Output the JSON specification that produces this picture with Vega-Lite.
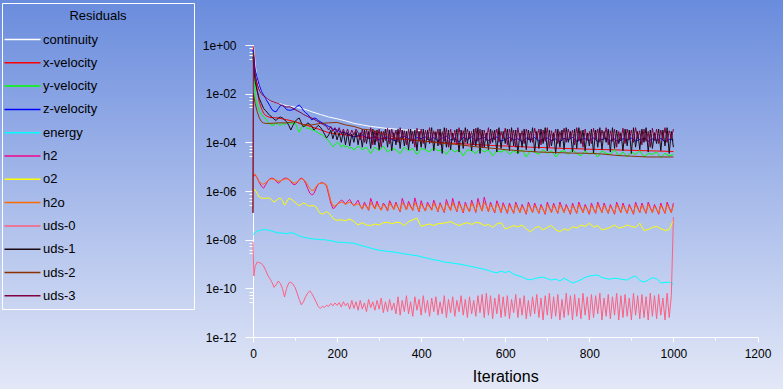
{
  "$schema": "https://vega.github.io/schema/vega-lite/v6.json",
  "width": 783,
  "height": 389,
  "padding": 0,
  "autosize": {"type": "none"},
  "background": "#a9bbea",
  "config": {
    "view": {"stroke": null, "fill": {"gradient": "linear", "x1": 0, "y1": 0, "x2": 0, "y2": 1, "stops": [{"offset": 0, "color": "#6a8cdd"}, {"offset": 1, "color": "#e3e8f7"}]}},
    "font": "Liberation Sans",
    "axis": {"domainColor": "#ffffff", "tickColor": "#ffffff", "labelColor": "#000000", "labelFont": "Liberation Sans", "labelFontSize": 12, "titleColor": "#000000", "titleFont": "Liberation Sans", "titleFontWeight": "normal", "grid": false, "labelFlush": false, "labelOverlap": false, "domainWidth": 1, "tickWidth": 1}
  },
  "data": {"values": [
{"i":0,"continuity":1,"x-velocity":0.9,"y-velocity":0.5,"z-velocity":0.63,"energy":1.58e-8,"h2":4e-6,"o2":1.26e-6,"h2o":4e-6,"uds-0":8e-9,"uds-1":0.32,"uds-2":1.26e-7,"uds-3":1.26e-7},
{"i":1,"continuity":0.95,"x-velocity":0.8,"uds-2":0.01,"uds-3":0.47},
{"i":2,"uds-0":3.2e-10},
{"i":3,"continuity":0.5,"x-velocity":0.25,"y-velocity":0.03,"z-velocity":0.2,"uds-1":0.08,"uds-2":6.3e-3,"uds-3":0.16},
{"i":5,"continuity":0.16,"x-velocity":0.063,"y-velocity":7.2e-3,"z-velocity":0.1,"h2":4.6e-6,"o2":1.1e-6,"h2o":5e-6,"uds-0":7.9e-10,"uds-1":0.032,"uds-2":4e-3,"uds-3":0.063},
{"i":10,"continuity":0.04,"x-velocity":0.014,"y-velocity":3.5e-3,"z-velocity":0.045,"energy":2.24e-8,"h2":3.5e-6,"o2":7.9e-7,"h2o":3.3e-6,"uds-0":1.2e-9,"uds-1":0.0126,"uds-2":1.8e-3,"uds-3":0.025},
{"i":15,"continuity":0.018,"x-velocity":4.5e-3,"y-velocity":2e-3,"z-velocity":0.022,"h2":2.2e-6,"o2":5.6e-7,"h2o":2.4e-6,"uds-0":1.15e-9,"uds-1":6.3e-3,"uds-2":1e-3,"uds-3":0.014},
{"i":20,"continuity":0.011,"x-velocity":2.5e-3,"y-velocity":1.4e-3,"z-velocity":0.0126,"energy":2.5e-8,"h2":1.6e-6,"o2":5.1e-7,"h2o":2e-6,"uds-0":1.05e-9,"uds-1":4e-3,"uds-2":7.1e-4,"uds-3":0.01},
{"i":25,"continuity":7.9e-3,"x-velocity":1.6e-3,"y-velocity":1.1e-3,"z-velocity":8.9e-3,"h2":1.3e-6,"o2":5e-7,"h2o":1.9e-6,"uds-0":8.3e-10,"uds-1":2.5e-3,"uds-2":6.3e-4,"uds-3":7.9e-3},
{"i":30,"continuity":6.3e-3,"x-velocity":1.26e-3,"y-velocity":9.5e-4,"z-velocity":6.3e-3,"energy":2.6e-8,"h2":1.8e-6,"o2":5e-7,"h2o":2.2e-6,"uds-0":5.6e-10,"uds-1":2e-3,"uds-2":6e-4,"uds-3":7.1e-3},
{"i":35,"y-velocity":7.1e-4,"z-velocity":4.5e-3,"h2":2.5e-6,"o2":5.2e-7,"h2o":2.6e-6,"uds-0":3.5e-10,"uds-1":1.6e-3,"uds-3":6e-3},
{"i":40,"continuity":5e-3,"x-velocity":1.05e-3,"y-velocity":5.6e-4,"z-velocity":3.2e-3,"energy":2.4e-8,"h2":3.2e-6,"o2":5e-7,"h2o":3e-6,"uds-0":2.5e-10,"uds-1":1.26e-3,"uds-2":6e-4,"uds-3":5.2e-3},
{"i":45,"y-velocity":5e-4,"z-velocity":2.2e-3,"h2":3.4e-6,"o2":4.2e-7,"h2o":3.2e-6,"uds-0":1.8e-10,"uds-1":1.1e-3,"uds-3":4.8e-3},
{"i":50,"y-velocity":5.2e-4,"z-velocity":1.9e-3,"energy":2.1e-8,"h2":3.2e-6,"o2":3.5e-7,"h2o":3e-6,"uds-0":1.1e-10,"uds-1":8.9e-4,"uds-3":4.5e-3},
{"i":55,"y-velocity":6.3e-4,"z-velocity":1.8e-3,"h2":2.5e-6,"o2":4e-7,"h2o":2.8e-6,"uds-0":1.4e-10,"uds-1":7.9e-4,"uds-3":4.2e-3},
{"i":60,"continuity":4e-3,"x-velocity":1e-3,"y-velocity":5.6e-4,"z-velocity":2.4e-3,"energy":1.9e-8,"h2":2.1e-6,"o2":4.8e-7,"h2o":2.5e-6,"uds-0":2e-10,"uds-1":1e-3,"uds-2":6.3e-4,"uds-3":4e-3},
{"i":65,"y-velocity":5e-4,"z-velocity":3.2e-3,"h2":2.4e-6,"o2":5.1e-7,"h2o":2.6e-6,"uds-0":1.6e-10,"uds-1":1.1e-3,"uds-3":3.5e-3},
{"i":70,"y-velocity":6e-4,"z-velocity":3.4e-3,"energy":1.86e-8,"h2":3e-6,"o2":4e-7,"h2o":2.8e-6,"uds-0":1e-10,"uds-1":1e-3,"uds-3":3.2e-3},
{"i":75,"y-velocity":5.2e-4,"z-velocity":2.8e-3,"h2":3.3e-6,"o2":2.6e-7,"h2o":3e-6,"uds-0":4.4e-11,"uds-1":8.3e-4,"uds-3":3e-3},
{"i":80,"continuity":3.2e-3,"x-velocity":8.5e-4,"y-velocity":6.3e-4,"z-velocity":2.2e-3,"energy":1.78e-8,"h2":3.4e-6,"o2":3.5e-7,"h2o":3.2e-6,"uds-0":1e-10,"uds-1":7.1e-4,"uds-2":6.3e-4,"uds-3":2.8e-3},
{"i":85,"y-velocity":6.6e-4,"z-velocity":2.1e-3,"h2":3e-6,"o2":5e-7,"h2o":3e-6,"uds-0":1.66e-10,"uds-1":5e-4,"uds-3":2.9e-3},
{"i":90,"y-velocity":5.6e-4,"z-velocity":2.1e-3,"energy":1.95e-8,"h2":2.4e-6,"o2":4.7e-7,"h2o":2.6e-6,"uds-0":1.8e-10,"uds-1":3.2e-4,"uds-3":2.8e-3},
{"i":95,"y-velocity":6.3e-4,"z-velocity":2.2e-3,"h2":1.9e-6,"o2":4e-7,"h2o":2.2e-6,"uds-0":1.5e-10,"uds-1":5e-4,"uds-3":2.5e-3},
{"i":100,"continuity":2.8e-3,"x-velocity":7.1e-4,"y-velocity":6.3e-4,"z-velocity":2.5e-3,"energy":1.74e-8,"h2":1.8e-6,"o2":3.5e-7,"h2o":2.1e-6,"uds-0":1.1e-10,"uds-1":7.1e-4,"uds-2":7.1e-4,"uds-3":2.2e-3},
{"i":105,"y-velocity":4e-4,"z-velocity":3e-3,"h2":2.2e-6,"o2":2.8e-7,"h2o":2.4e-6,"uds-0":6.3e-11,"uds-1":8.9e-4,"uds-3":2e-3},
{"i":110,"y-velocity":2.6e-4,"z-velocity":3.4e-3,"energy":1.41e-8,"h2":3e-6,"o2":2.5e-7,"h2o":2.8e-6,"uds-0":3.5e-11,"uds-1":1e-3,"uds-3":1.8e-3},
{"i":115,"y-velocity":4e-4,"z-velocity":2.8e-3,"h2":3.4e-6,"o2":2.8e-7,"h2o":3.2e-6,"uds-0":2.1e-11,"uds-1":6.3e-4,"uds-3":1.6e-3},
{"i":120,"continuity":2.4e-3,"x-velocity":5.4e-4,"y-velocity":5e-4,"z-velocity":2e-3,"energy":1.26e-8,"h2":3e-6,"o2":3.2e-7,"h2o":3e-6,"uds-0":2.8e-11,"uds-1":4.3e-4,"uds-2":5.2e-4,"uds-3":1.4e-3},
{"i":125,"y-velocity":4.5e-4,"z-velocity":1.66e-3,"h2":2.1e-6,"o2":3e-7,"h2o":2.5e-6,"uds-0":4.5e-11,"uds-1":5e-4,"uds-3":1.26e-3},
{"i":130,"y-velocity":3.5e-4,"z-velocity":1.41e-3,"energy":1.17e-8,"h2":1.26e-6,"o2":2.5e-7,"h2o":1.8e-6,"uds-0":6.3e-11,"uds-1":6.3e-4,"uds-3":1.15e-3},
{"i":135,"y-velocity":4e-4,"z-velocity":1.12e-3,"h2":8.3e-7,"o2":2.4e-7,"h2o":1.26e-6,"uds-0":7.9e-11,"uds-1":5.6e-4,"uds-3":1.05e-3},
{"i":140,"continuity":1.8e-3,"x-velocity":4.3e-4,"y-velocity":3.2e-4,"z-velocity":8.3e-4,"energy":1.07e-8,"h2":6.8e-7,"o2":2.5e-7,"h2o":1.05e-6,"uds-0":6e-11,"uds-1":4.5e-4,"uds-2":5.2e-4,"uds-3":1e-3},
{"i":145,"y-velocity":3.2e-4,"z-velocity":1e-3,"h2":7.9e-7,"o2":2.5e-7,"h2o":1.1e-6,"uds-0":4.2e-11,"uds-1":3.2e-4,"uds-3":8.9e-4},
{"i":150,"y-velocity":2.8e-4,"z-velocity":9.5e-4,"energy":1.05e-8,"h2":1.26e-6,"o2":2.24e-7,"h2o":1.5e-6,"uds-0":2.8e-11,"uds-1":4e-4,"uds-3":7.9e-4},
{"i":155,"y-velocity":2.5e-4,"z-velocity":7.9e-4,"h2":1.9e-6,"o2":1.58e-7,"h2o":1.9e-6,"uds-0":1.8e-11,"uds-1":5e-4,"uds-3":7.1e-4},
{"i":160,"continuity":1.4e-3,"x-velocity":3.3e-4,"y-velocity":2.2e-4,"z-velocity":7.1e-4,"energy":1e-8,"h2":2.1e-6,"o2":1.2e-7,"h2o":2.1e-6,"uds-0":1.5e-11,"uds-1":4.2e-4,"uds-2":6e-4,"uds-3":6.3e-4},
{"i":165,"y-velocity":2e-4,"z-velocity":6.3e-4,"h2":2.2e-6,"o2":1.12e-7,"h2o":2.1e-6,"uds-0":1.8e-11,"uds-1":3.2e-4,"uds-3":5.6e-4},
{"i":170,"y-velocity":1.66e-4,"z-velocity":5.6e-4,"energy":1e-8,"h2":2e-6,"o2":1.26e-7,"h2o":2e-6,"uds-0":1.66e-11,"uds-1":2.2e-4,"uds-3":5e-4},
{"i":175,"y-velocity":1.41e-4,"z-velocity":5e-4,"h2":1.6e-6,"o2":1.41e-7,"h2o":1.8e-6,"uds-0":2e-11,"uds-1":1.5e-4,"uds-3":4.5e-4},
{"i":180,"continuity":1.1e-3,"x-velocity":2.5e-4,"y-velocity":1.12e-4,"z-velocity":4.5e-4,"energy":9.3e-9,"h2":7.1e-7,"o2":1.26e-7,"h2o":8.9e-7,"uds-0":1.8e-11,"uds-1":2e-4,"uds-2":6.3e-4,"uds-3":3.2e-4},
{"i":185,"y-velocity":8.9e-5,"z-velocity":4e-4,"h2":3.2e-7,"o2":1e-7,"h2o":4e-7,"uds-0":2.4e-11,"uds-1":3.2e-4,"uds-3":4.5e-4},
{"i":190,"y-velocity":6.5e-5,"z-velocity":3.5e-4,"energy":8.7e-9,"h2":1.9e-7,"o2":7.6e-8,"h2o":2.5e-7,"uds-0":1.9e-11,"uds-1":1.4e-4,"uds-3":2.8e-4},
{"i":195,"y-velocity":7.9e-5,"z-velocity":3.3e-4,"h2":2.1e-7,"o2":6.5e-8,"h2o":2.4e-7,"uds-0":2.5e-11,"uds-1":2.8e-4,"uds-3":4e-4},
{"i":200,"continuity":9.3e-4,"x-velocity":2.2e-4,"y-velocity":1e-4,"z-velocity":3.2e-4,"energy":7.9e-9,"h2":2.8e-7,"o2":6.3e-8,"h2o":2.8e-7,"uds-0":2e-11,"uds-1":1.26e-4,"uds-2":6.6e-4,"uds-3":2.5e-4},
{"i":205,"y-velocity":8.9e-5,"h2":3.5e-7,"h2o":3.2e-7,"uds-0":2.6e-11,"uds-1":2.5e-4,"uds-3":4e-4},
{"i":210,"y-velocity":6.3e-5,"z-velocity":2.6e-4,"energy":7.8e-9,"h2":4.2e-7,"o2":6.5e-8,"h2o":3.5e-7,"uds-0":1.7e-11,"uds-1":1e-4,"uds-3":2.2e-4},
{"i":215,"y-velocity":7.9e-5,"h2":3.8e-7,"h2o":3.3e-7,"uds-0":2.8e-11,"uds-1":2.8e-4,"uds-3":3.5e-4},
{"i":220,"continuity":7.6e-4,"x-velocity":2e-4,"y-velocity":6.3e-5,"z-velocity":2.4e-4,"energy":7.6e-9,"h2":2.8e-7,"o2":6e-8,"h2o":2.8e-7,"uds-0":1.9e-11,"uds-1":7.9e-5,"uds-2":5.2e-4,"uds-3":2e-4},
{"i":225,"y-velocity":7.1e-5,"h2":3.8e-7,"h2o":3.2e-7,"uds-0":2.5e-11,"uds-1":2.5e-4,"uds-3":3.5e-4},
{"i":230,"y-velocity":5.6e-5,"z-velocity":2e-4,"energy":7.4e-9,"h2":4.5e-7,"o2":7.1e-8,"h2o":3.5e-7,"uds-0":1.4e-11,"uds-1":7.1e-5,"uds-3":1.8e-4},
{"i":235,"y-velocity":6.3e-5,"h2":3.2e-7,"h2o":3e-7,"uds-0":3.2e-11,"uds-1":2.2e-4,"uds-3":3.2e-4},
{"i":240,"continuity":6e-4,"x-velocity":1.8e-4,"y-velocity":4.8e-5,"z-velocity":1.66e-4,"energy":7.1e-9,"h2":2.4e-7,"o2":5.6e-8,"h2o":2.5e-7,"uds-0":1.5e-11,"uds-1":1e-4,"uds-2":4.5e-4,"uds-3":2e-4},
{"i":245,"h2":3.2e-7,"h2o":2.8e-7,"uds-0":2.8e-11,"uds-1":2.8e-4,"uds-3":3.5e-4},
{"i":250,"y-velocity":7.1e-5,"z-velocity":1.9e-4,"energy":6.3e-9,"h2":4.2e-7,"o2":4e-8,"h2o":3e-7,"uds-0":1.26e-11,"uds-1":7.9e-5,"uds-3":2.5e-4},
{"i":255,"h2":2.5e-7,"h2o":2.4e-7,"uds-0":3.2e-11,"uds-1":2.5e-4,"uds-3":1.26e-4},
{"i":260,"continuity":5.2e-4,"x-velocity":1.66e-4,"y-velocity":5e-5,"z-velocity":2e-4,"energy":5.6e-9,"h2":1.8e-7,"o2":5e-8,"h2o":1.8e-7,"uds-0":1.4e-11,"uds-1":6.3e-5,"uds-2":3.5e-4,"uds-3":3.5e-4},
{"i":265,"h2":3.5e-7,"h2o":2.8e-7,"uds-0":2.5e-11,"uds-1":3.2e-4,"uds-3":1e-4},
{"i":270,"y-velocity":6.3e-5,"z-velocity":1.58e-4,"energy":5e-9,"h2":2.4e-7,"o2":4e-8,"h2o":2.2e-7,"uds-0":1.1e-11,"uds-1":8.9e-5,"uds-3":3.2e-4},
{"i":275,"h2":1.6e-7,"h2o":1.66e-7,"uds-0":3.5e-11,"uds-1":2.8e-4,"uds-3":1.4e-4},
{"i":280,"continuity":4.5e-4,"x-velocity":1.6e-4,"y-velocity":3.5e-5,"z-velocity":1.41e-4,"energy":4.5e-9,"h2":5e-7,"o2":3.8e-8,"h2o":3.3e-7,"uds-0":1.6e-11,"uds-1":5.6e-5,"uds-2":3.2e-4,"uds-3":4e-4},
{"i":285,"h2":2.8e-7,"h2o":2.5e-7,"uds-0":2.8e-11,"uds-1":3.5e-4,"uds-3":7.9e-5},
{"i":290,"y-velocity":6.3e-5,"z-velocity":1.78e-4,"energy":4e-9,"h2":1.9e-7,"o2":4.4e-8,"h2o":1.8e-7,"uds-0":1.26e-11,"uds-1":7.9e-5,"uds-3":3e-4},
{"i":295,"h2":3.8e-7,"h2o":3e-7,"uds-0":3.2e-11,"uds-1":3.2e-4,"uds-3":1.1e-4},
{"i":300,"continuity":4.1e-4,"x-velocity":1.5e-4,"y-velocity":4.5e-5,"z-velocity":1.26e-4,"energy":3.7e-9,"h2":2.24e-7,"o2":4e-8,"h2o":2.2e-7,"uds-0":1.4e-11,"uds-1":5e-5,"uds-2":2.5e-4,"uds-3":3.5e-4},
{"i":305,"h2":1.66e-7,"h2o":1.6e-7,"uds-0":4e-11,"uds-1":2.8e-4,"uds-3":6.3e-5},
{"i":310,"y-velocity":7.1e-5,"z-velocity":1.5e-4,"energy":3.5e-9,"h2":3.2e-7,"o2":5e-8,"h2o":2.8e-7,"uds-0":1e-11,"uds-1":1e-4,"uds-3":2.8e-4},
{"i":315,"h2":2.5e-7,"h2o":2.2e-7,"uds-0":2.8e-11,"uds-1":3.5e-4,"uds-3":1.2e-4},
{"i":320,"continuity":3.7e-4,"x-velocity":1.45e-4,"y-velocity":4e-5,"z-velocity":1.66e-4,"energy":3.3e-9,"h2":1.5e-7,"o2":5.2e-8,"h2o":1.6e-7,"uds-0":1.1e-11,"uds-1":6.3e-5,"uds-2":2e-4,"uds-3":3.8e-4},
{"i":325,"h2":4e-7,"h2o":3.2e-7,"uds-0":3.5e-11,"uds-1":3.2e-4,"uds-3":8.9e-5},
{"i":330,"y-velocity":5.6e-5,"z-velocity":1.32e-4,"energy":3.2e-9,"h2":2.6e-7,"o2":4.5e-8,"h2o":2.4e-7,"uds-0":1.26e-11,"uds-1":4.5e-5,"uds-3":3.5e-4},
{"i":335,"h2":1.8e-7,"h2o":1.7e-7,"uds-0":2.5e-11,"uds-1":2.5e-4,"uds-3":1.26e-4},
{"i":340,"continuity":3.5e-4,"x-velocity":1.38e-4,"y-velocity":5e-5,"z-velocity":1.12e-4,"energy":3e-9,"h2":3.5e-7,"o2":5.2e-8,"h2o":3e-7,"uds-0":8.9e-12,"uds-1":7.9e-5,"uds-2":1.58e-4,"uds-3":3.2e-4},
{"i":345,"h2":2.1e-7,"h2o":2.1e-7,"uds-0":4.5e-11,"uds-1":3.5e-4,"uds-3":1e-4},
{"i":350,"y-velocity":3.5e-5,"z-velocity":1.58e-4,"energy":2.8e-9,"h2":1.4e-7,"o2":5e-8,"h2o":1.5e-7,"uds-0":7.9e-12,"uds-1":5.6e-5,"uds-3":4e-4},
{"i":355,"h2":5e-7,"h2o":3.3e-7,"uds-0":3.2e-11,"uds-1":3.2e-4,"uds-3":1.4e-4},
{"i":360,"continuity":3.2e-4,"x-velocity":1.32e-4,"y-velocity":6.3e-5,"z-velocity":1.78e-4,"energy":2.6e-9,"h2":2.8e-7,"o2":3.8e-8,"h2o":2.5e-7,"uds-0":1.1e-11,"uds-1":7.1e-5,"uds-2":1.38e-4,"uds-3":3e-4},
{"i":365,"h2":1.66e-7,"h2o":1.66e-7,"uds-0":5e-11,"uds-1":2.8e-4,"uds-3":7.9e-5},
{"i":370,"y-velocity":4.5e-5,"z-velocity":1.41e-4,"energy":2.5e-9,"h2":3.8e-7,"o2":5.5e-8,"h2o":3e-7,"uds-0":8.9e-12,"uds-1":5e-5,"uds-3":3.5e-4},
{"i":375,"h2":2.4e-7,"h2o":2.2e-7,"uds-0":2.8e-11,"uds-1":3.5e-4,"uds-3":1.1e-4},
{"i":380,"continuity":3.2e-4,"x-velocity":1.26e-4,"y-velocity":5.6e-5,"z-velocity":1.2e-4,"energy":2.3e-9,"h2":1.6e-7,"o2":6.5e-8,"h2o":1.6e-7,"uds-0":7.1e-12,"uds-1":8.9e-5,"uds-2":1.26e-4,"uds-3":2.8e-4},
{"i":385,"h2":5.2e-7,"h2o":3.3e-7,"uds-0":4.5e-11,"uds-1":3.2e-4,"uds-3":6.3e-5},
{"i":390,"y-velocity":3.2e-5,"z-velocity":1.58e-4,"energy":2.2e-9,"h2":2.5e-7,"o2":7.6e-8,"h2o":2.4e-7,"uds-0":1.26e-11,"uds-1":4.5e-5,"uds-3":3.8e-4},
{"i":395,"h2":1.4e-7,"h2o":1.5e-7,"uds-0":3.5e-11,"uds-1":2.8e-4,"uds-3":1.2e-4},
{"i":400,"continuity":3e-4,"x-velocity":1.15e-4,"y-velocity":5.6e-5,"z-velocity":1.41e-4,"energy":2e-9,"h2":4e-7,"o2":3.5e-8,"h2o":3e-7,"uds-0":7.9e-12,"uds-1":6.3e-5,"uds-2":1.12e-4,"uds-3":3.5e-4},
{"i":405,"h2":2.24e-7,"h2o":2.1e-7,"uds-0":5e-11,"uds-1":3.5e-4,"uds-3":8.9e-5},
{"i":410,"y-velocity":5e-5,"z-velocity":1.66e-4,"energy":1.8e-9,"h2":1.5e-7,"o2":4e-8,"h2o":1.5e-7,"uds-0":1e-11,"uds-1":5.6e-5,"uds-3":3.2e-4},
{"i":415,"h2":3.5e-7,"h2o":2.8e-7,"uds-0":3.2e-11,"uds-1":3.2e-4,"uds-3":1.26e-4},
{"i":420,"continuity":2.8e-4,"x-velocity":1.07e-4,"y-velocity":4e-5,"z-velocity":1.2e-4,"energy":1.66e-9,"h2":2.5e-7,"o2":4.4e-8,"h2o":2.2e-7,"uds-0":7.1e-12,"uds-1":8.9e-5,"uds-2":1.05e-4,"uds-3":4e-4},
{"i":425,"h2":1.66e-7,"h2o":1.6e-7,"uds-0":4e-11,"uds-1":4e-4,"uds-3":1e-4},
{"i":430,"y-velocity":6.3e-5,"z-velocity":1.58e-4,"energy":1.5e-9,"h2":4.2e-7,"o2":3.8e-8,"h2o":3.2e-7,"uds-0":1.1e-11,"uds-1":4.5e-5,"uds-3":3e-4},
{"i":435,"h2":2.4e-7,"h2o":2.2e-7,"uds-0":4.5e-11,"uds-1":2.8e-4,"uds-3":1.4e-4},
{"i":440,"continuity":2.7e-4,"x-velocity":1e-4,"y-velocity":4.5e-5,"z-velocity":1.12e-4,"energy":1.41e-9,"h2":1.4e-7,"o2":4.5e-8,"h2o":1.5e-7,"uds-0":7.9e-12,"uds-1":7.1e-5,"uds-2":9.5e-5,"uds-3":3.5e-4},
{"i":445,"h2":3.3e-7,"h2o":2.8e-7,"uds-0":2.8e-11,"uds-1":3.5e-4,"uds-3":7.9e-5},
{"i":450,"y-velocity":5e-5,"z-velocity":1.5e-4,"energy":1.26e-9,"h2":2e-7,"o2":4.7e-8,"h2o":2e-7,"uds-0":8.9e-12,"uds-1":3.5e-5,"uds-3":2.8e-4},
{"i":455,"h2":1.3e-7,"h2o":1.4e-7,"uds-0":5e-11,"uds-1":4e-4,"uds-3":1.1e-4},
{"i":460,"continuity":2.6e-4,"x-velocity":9.5e-5,"y-velocity":3.2e-5,"z-velocity":1.78e-4,"energy":1.17e-9,"h2":4.5e-7,"o2":5e-8,"h2o":3.2e-7,"uds-0":6.3e-12,"uds-1":6.3e-5,"uds-2":8.9e-5,"uds-3":3.8e-4},
{"i":465,"h2":2.5e-7,"h2o":2.3e-7,"uds-0":3.5e-11,"uds-1":3.2e-4,"uds-3":6.3e-5},
{"i":470,"y-velocity":5.6e-5,"z-velocity":1.26e-4,"energy":1.12e-9,"h2":1.6e-7,"o2":5.5e-8,"h2o":1.6e-7,"uds-0":1e-11,"uds-1":5e-5,"uds-3":3.5e-4},
{"i":475,"h2":5e-7,"h2o":3.3e-7,"uds-0":4.5e-11,"uds-1":2.5e-4,"uds-3":1.2e-4},
{"i":480,"continuity":2.5e-4,"x-velocity":9.1e-5,"y-velocity":4e-5,"z-velocity":1.41e-4,"energy":1.05e-9,"h2":2.4e-7,"o2":4.5e-8,"h2o":2.2e-7,"uds-0":7.1e-12,"uds-1":1e-4,"uds-2":8.3e-5,"uds-3":3.2e-4},
{"i":485,"h2":1.4e-7,"h2o":1.5e-7,"uds-0":3.2e-11,"uds-1":3.5e-4,"uds-3":8.9e-5},
{"i":490,"y-velocity":5e-5,"z-velocity":1.05e-4,"energy":1e-9,"h2":3.8e-7,"o2":3.8e-8,"h2o":3e-7,"uds-0":1.1e-11,"uds-1":4e-5,"uds-3":4e-4},
{"i":495,"h2":2.24e-7,"h2o":2.1e-7,"uds-0":5e-11,"uds-1":3.2e-4,"uds-3":1.26e-4},
{"i":500,"continuity":2.6e-4,"x-velocity":8.7e-5,"y-velocity":2.8e-5,"z-velocity":1.58e-4,"energy":9.3e-10,"h2":1.26e-7,"o2":4.5e-8,"h2o":1.4e-7,"uds-0":7.9e-12,"uds-1":5.6e-5,"uds-2":7.6e-5,"uds-3":3e-4},
{"i":505,"h2":3.5e-7,"h2o":2.8e-7,"uds-0":3.5e-11,"uds-1":4e-4,"uds-3":1e-4},
{"i":510,"y-velocity":5e-5,"z-velocity":1.32e-4,"energy":8.5e-10,"h2":2e-7,"o2":5e-8,"h2o":2e-7,"uds-0":6.3e-12,"uds-1":8.9e-5,"uds-3":3.5e-4},
{"i":515,"h2":1.4e-7,"h2o":1.45e-7,"uds-0":4.5e-11,"uds-1":2.8e-4,"uds-3":1.4e-4},
{"i":520,"continuity":2.5e-4,"x-velocity":8.3e-5,"y-velocity":4.5e-5,"z-velocity":1.66e-4,"energy":7.9e-10,"h2":4.2e-7,"o2":4.2e-8,"h2o":3.2e-7,"uds-0":8.9e-12,"uds-1":4.5e-5,"uds-2":6.9e-5,"uds-3":2.8e-4},
{"i":525,"h2":2.4e-7,"h2o":2.2e-7,"uds-0":3.2e-11,"uds-1":3.5e-4,"uds-3":7.9e-5},
{"i":530,"y-velocity":3.5e-5,"z-velocity":1.12e-4,"energy":7.2e-10,"h2":1.3e-7,"o2":5.2e-8,"h2o":1.4e-7,"uds-0":7.1e-12,"uds-1":7.1e-5,"uds-3":3.8e-4},
{"i":535,"h2":5e-7,"h2o":3.3e-7,"uds-0":5e-11,"uds-1":4e-4,"uds-3":1.1e-4},
{"i":540,"continuity":2.4e-4,"x-velocity":7.9e-5,"y-velocity":5.6e-5,"z-velocity":1.41e-4,"energy":6.6e-10,"h2":2.5e-7,"o2":4.8e-8,"h2o":2.3e-7,"uds-0":1e-11,"uds-1":3.5e-5,"uds-2":6.3e-5,"uds-3":3.5e-4},
{"i":545,"h2":1.5e-7,"h2o":1.5e-7,"uds-0":5.6e-11,"uds-1":3.2e-4,"uds-3":6.3e-5},
{"i":550,"y-velocity":4e-5,"z-velocity":1.58e-4,"energy":6e-10,"h2":5.6e-7,"o2":3.8e-8,"h2o":3.5e-7,"uds-0":6.3e-12,"uds-1":6.3e-5,"uds-3":3.2e-4},
{"i":555,"h2":2.6e-7,"h2o":2.4e-7,"uds-0":6.3e-11,"uds-1":2.5e-4,"uds-3":1.2e-4},
{"i":560,"continuity":2.5e-4,"x-velocity":7.6e-5,"y-velocity":5e-5,"z-velocity":1.2e-4,"energy":5.5e-10,"h2":1.4e-7,"o2":4.2e-8,"h2o":1.45e-7,"uds-0":7.9e-12,"uds-1":5e-5,"uds-2":5.9e-5,"uds-3":4e-4},
{"i":565,"h2":3.5e-7,"h2o":2.8e-7,"uds-0":5e-11,"uds-1":3.5e-4,"uds-3":8.9e-5},
{"i":570,"y-velocity":2.8e-5,"z-velocity":1.41e-4,"energy":4.7e-10,"h2":2e-7,"o2":3.2e-8,"h2o":2e-7,"uds-0":5.6e-12,"uds-1":1e-4,"uds-3":3e-4},
{"i":575,"h2":1.26e-7,"h2o":1.35e-7,"uds-0":4e-11,"uds-1":3.2e-4,"uds-3":1.26e-4},
{"i":580,"continuity":2.35e-4,"x-velocity":7.2e-5,"y-velocity":4.5e-5,"z-velocity":1.66e-4,"energy":4.4e-10,"h2":4e-7,"o2":4.4e-8,"h2o":3e-7,"uds-0":8.9e-12,"uds-1":4e-5,"uds-2":5.5e-5,"uds-3":3.5e-4},
{"i":585,"h2":2.4e-7,"h2o":2.2e-7,"uds-0":5.6e-11,"uds-1":4e-4,"uds-3":1e-4},
{"i":590,"y-velocity":4e-5,"z-velocity":1.12e-4,"energy":5e-10,"h2":1.3e-7,"o2":5e-8,"h2o":1.4e-7,"uds-0":6.3e-12,"uds-1":5.6e-5,"uds-3":2.8e-4},
{"i":595,"h2":3.3e-7,"h2o":2.7e-7,"uds-0":4.5e-11,"uds-1":2.8e-4,"uds-3":1.4e-4},
{"i":600,"continuity":2.5e-4,"x-velocity":7.1e-5,"y-velocity":5e-5,"z-velocity":1.32e-4,"energy":4.5e-10,"h2":2e-7,"o2":2.75e-8,"h2o":1.9e-7,"uds-0":7.1e-12,"uds-1":8.9e-5,"uds-2":5e-5,"uds-3":3.8e-4},
{"i":605,"h2":1.2e-7,"h2o":1.3e-7,"uds-0":5e-11,"uds-1":3.5e-4,"uds-3":7.9e-5},
{"i":610,"y-velocity":3.2e-5,"z-velocity":1.58e-4,"energy":5e-10,"h2":3.2e-7,"o2":3.2e-8,"h2o":2.6e-7,"uds-0":5.6e-12,"uds-1":4.5e-5,"uds-3":3.5e-4},
{"i":615,"h2":1.9e-7,"h2o":1.8e-7,"uds-0":3.5e-11,"uds-1":4e-4,"uds-3":1.1e-4},
{"i":620,"continuity":2.4e-4,"x-velocity":6.8e-5,"y-velocity":4.5e-5,"z-velocity":1.26e-4,"energy":3.8e-10,"h2":1.2e-7,"o2":3.8e-8,"h2o":1.26e-7,"uds-0":1e-11,"uds-1":7.1e-5,"uds-2":4.7e-5,"uds-3":3.2e-4},
{"i":625,"h2":3.5e-7,"h2o":2.8e-7,"uds-0":5.6e-11,"uds-1":3.2e-4,"uds-3":6.3e-5},
{"i":630,"y-velocity":3.5e-5,"z-velocity":1.41e-4,"energy":3.3e-10,"h2":2.1e-7,"o2":3.3e-8,"h2o":1.9e-7,"uds-0":6.3e-12,"uds-1":3.5e-5,"uds-3":4e-4},
{"i":635,"h2":1.3e-7,"h2o":1.3e-7,"uds-0":4e-11,"uds-1":2.5e-4,"uds-3":1.2e-4},
{"i":640,"continuity":2.5e-4,"x-velocity":6.6e-5,"y-velocity":5e-5,"z-velocity":1.05e-4,"energy":2.95e-10,"h2":2.8e-7,"o2":4e-8,"h2o":2.4e-7,"uds-0":7.9e-12,"uds-1":6.3e-5,"uds-2":4.4e-5,"uds-3":3e-4},
{"i":645,"h2":1.8e-7,"h2o":1.7e-7,"uds-0":5e-11,"uds-1":3.5e-4,"uds-3":8.9e-5},
{"i":650,"y-velocity":2.5e-5,"z-velocity":1.5e-4,"energy":2.4e-10,"h2":1.1e-7,"o2":2.8e-8,"h2o":1.2e-7,"uds-0":5.6e-12,"uds-1":5e-5,"uds-3":3.5e-4},
{"i":655,"h2":3.5e-7,"h2o":2.8e-7,"uds-0":3.2e-11,"uds-1":3.2e-4,"uds-3":1.26e-4},
{"i":660,"continuity":2.35e-4,"x-velocity":6.3e-5,"y-velocity":4.5e-5,"z-velocity":1.26e-4,"energy":2.24e-10,"h2":2.1e-7,"o2":2.1e-8,"h2o":1.9e-7,"uds-0":7.1e-12,"uds-1":1e-4,"uds-2":4.2e-5,"uds-3":2.8e-4},
{"i":665,"h2":1.3e-7,"h2o":1.3e-7,"uds-0":4.5e-11,"uds-1":4e-4,"uds-3":1e-4},
{"i":670,"y-velocity":4e-5,"z-velocity":1.58e-4,"energy":2.5e-10,"h2":3.2e-7,"o2":3e-8,"h2o":2.6e-7,"uds-0":8.9e-12,"uds-1":4e-5,"uds-3":3.8e-4},
{"i":675,"h2":1.9e-7,"h2o":1.8e-7,"uds-0":5.6e-11,"uds-1":2.8e-4,"uds-3":1.4e-4},
{"i":680,"continuity":2.4e-4,"x-velocity":6.2e-5,"y-velocity":3.2e-5,"z-velocity":1.12e-4,"energy":2.75e-10,"h2":1.2e-7,"o2":3.5e-8,"h2o":1.26e-7,"uds-0":6.3e-12,"uds-1":5.6e-5,"uds-2":4e-5,"uds-3":3.5e-4},
{"i":685,"h2":2.8e-7,"h2o":2.4e-7,"uds-0":4e-11,"uds-1":3.5e-4,"uds-3":7.9e-5},
{"i":690,"y-velocity":5e-5,"z-velocity":1.32e-4,"energy":2.9e-10,"h2":1.8e-7,"o2":2.5e-8,"h2o":1.7e-7,"uds-0":5e-12,"uds-1":8.9e-5,"uds-3":3.2e-4},
{"i":695,"h2":1.1e-7,"h2o":1.2e-7,"uds-0":5e-11,"uds-1":4e-4,"uds-3":1.1e-4},
{"i":700,"continuity":2.45e-4,"x-velocity":6e-5,"y-velocity":3.5e-5,"z-velocity":1.5e-4,"energy":2.5e-10,"h2":3.5e-7,"o2":3.2e-8,"h2o":2.8e-7,"uds-0":7.9e-12,"uds-1":4.5e-5,"uds-2":3.9e-5,"uds-3":4e-4},
{"i":705,"h2":2.1e-7,"h2o":1.9e-7,"uds-0":6.3e-11,"uds-1":3.2e-4,"uds-3":6.3e-5},
{"i":710,"y-velocity":4.5e-5,"z-velocity":1.2e-4,"energy":2.2e-10,"h2":1.3e-7,"o2":3.8e-8,"h2o":1.3e-7,"uds-0":5.6e-12,"uds-1":7.1e-5,"uds-3":3e-4},
{"i":715,"h2":3.2e-7,"h2o":2.6e-7,"uds-0":4.5e-11,"uds-1":2.5e-4,"uds-3":1.2e-4},
{"i":720,"continuity":2.3e-4,"x-velocity":5.8e-5,"y-velocity":2.5e-5,"z-velocity":1.38e-4,"energy":2.4e-10,"h2":1.9e-7,"o2":2.5e-8,"h2o":1.8e-7,"uds-0":7.1e-12,"uds-1":3.5e-5,"uds-2":3.8e-5,"uds-3":3.5e-4},
{"i":725,"h2":1.2e-7,"h2o":1.26e-7,"uds-0":5.6e-11,"uds-1":3.5e-4,"uds-3":8.9e-5},
{"i":730,"y-velocity":4e-5,"z-velocity":1.05e-4,"energy":2e-10,"h2":3.5e-7,"o2":2.14e-8,"h2o":2.8e-7,"uds-0":5e-12,"uds-1":6.3e-5,"uds-3":2.8e-4},
{"i":735,"h2":2.1e-7,"h2o":1.9e-7,"uds-0":3.5e-11,"uds-1":3.2e-4,"uds-3":1.26e-4},
{"i":740,"continuity":2.5e-4,"x-velocity":5.6e-5,"y-velocity":4.5e-5,"z-velocity":1.45e-4,"energy":2.6e-10,"h2":1.3e-7,"o2":2.8e-8,"h2o":1.3e-7,"uds-0":6.3e-12,"uds-1":5e-5,"uds-2":3.7e-5,"uds-3":3.8e-4},
{"i":745,"h2":2.8e-7,"h2o":2.4e-7,"uds-0":6.3e-11,"uds-1":4e-4,"uds-3":1e-4},
{"i":750,"y-velocity":3.2e-5,"z-velocity":1.26e-4,"energy":2.1e-10,"h2":1.8e-7,"o2":2.4e-8,"h2o":1.7e-7,"uds-0":7.9e-12,"uds-1":1e-4,"uds-3":3.5e-4},
{"i":755,"h2":1.1e-7,"h2o":1.2e-7,"uds-0":5e-11,"uds-1":2.8e-4,"uds-3":1.4e-4},
{"i":760,"continuity":2.35e-4,"x-velocity":5.5e-5,"y-velocity":5e-5,"z-velocity":1.58e-4,"energy":1.66e-10,"h2":3.2e-7,"o2":3.4e-8,"h2o":2.6e-7,"uds-0":5e-12,"uds-1":4e-5,"uds-2":3.6e-5,"uds-3":3.2e-4},
{"i":765,"h2":1.9e-7,"h2o":1.8e-7,"uds-0":5.6e-11,"uds-1":3.5e-4,"uds-3":7.9e-5},
{"i":770,"y-velocity":3.5e-5,"z-velocity":1.12e-4,"energy":1.9e-10,"h2":1.2e-7,"o2":3e-8,"h2o":1.26e-7,"uds-0":7.1e-12,"uds-1":5.6e-5,"uds-3":4e-4},
{"i":775,"h2":3.5e-7,"h2o":2.8e-7,"uds-0":4e-11,"uds-1":4e-4,"uds-3":1.1e-4},
{"i":780,"continuity":2.4e-4,"x-velocity":5.4e-5,"y-velocity":2.8e-5,"z-velocity":1.32e-4,"energy":2.24e-10,"h2":2.1e-7,"o2":4e-8,"h2o":1.9e-7,"uds-0":5.6e-12,"uds-1":8.9e-5,"uds-2":3.6e-5,"uds-3":3e-4},
{"i":785,"h2":1.3e-7,"h2o":1.3e-7,"uds-0":6.3e-11,"uds-1":3.2e-4,"uds-3":6.3e-5},
{"i":790,"y-velocity":4.5e-5,"z-velocity":1.41e-4,"energy":2.8e-10,"h2":2.8e-7,"o2":3.5e-8,"h2o":2.4e-7,"uds-0":7.9e-12,"uds-1":4.5e-5,"uds-3":3.5e-4},
{"i":795,"h2":1.8e-7,"h2o":1.7e-7,"uds-0":4.5e-11,"uds-1":2.5e-4,"uds-3":1.2e-4},
{"i":800,"continuity":2.5e-4,"x-velocity":5.2e-5,"y-velocity":3.2e-5,"z-velocity":1.2e-4,"energy":3.2e-10,"h2":1.1e-7,"o2":4.7e-8,"h2o":1.2e-7,"uds-0":5e-12,"uds-1":7.1e-5,"uds-2":3.5e-5,"uds-3":2.8e-4},
{"i":805,"h2":3.2e-7,"h2o":2.6e-7,"uds-0":5.6e-11,"uds-1":3.5e-4,"uds-3":8.9e-5},
{"i":810,"y-velocity":4e-5,"z-velocity":1.5e-4,"energy":3.4e-10,"h2":1.9e-7,"o2":3.3e-8,"h2o":1.8e-7,"uds-0":6.3e-12,"uds-1":3.5e-5,"uds-3":3.8e-4},
{"i":815,"h2":1.2e-7,"h2o":1.26e-7,"uds-0":5e-11,"uds-1":3.2e-4,"uds-3":1.26e-4},
{"i":820,"continuity":2.35e-4,"x-velocity":5.1e-5,"y-velocity":2.5e-5,"z-velocity":1.1e-4,"energy":3.5e-10,"h2":3.5e-7,"o2":3.8e-8,"h2o":2.8e-7,"uds-0":8.9e-12,"uds-1":6.3e-5,"uds-2":3.4e-5,"uds-3":3.5e-4},
{"i":825,"h2":2.1e-7,"h2o":1.9e-7,"uds-0":6.3e-11,"uds-1":4e-4,"uds-3":1e-4},
{"i":830,"y-velocity":4.5e-5,"z-velocity":1.32e-4,"energy":2.8e-10,"h2":1.3e-7,"o2":2.5e-8,"h2o":1.3e-7,"uds-0":5e-12,"uds-1":5e-5,"uds-3":3.2e-4},
{"i":835,"h2":3.2e-7,"h2o":2.6e-7,"uds-0":4e-11,"uds-1":2.8e-4,"uds-3":1.4e-4},
{"i":840,"continuity":2.4e-4,"x-velocity":5e-5,"y-velocity":3.5e-5,"z-velocity":1.45e-4,"energy":2.5e-10,"h2":1.9e-7,"o2":2.8e-8,"h2o":1.8e-7,"uds-0":7.1e-12,"uds-1":1e-4,"uds-2":3.2e-5,"uds-3":4e-4},
{"i":845,"h2":1.2e-7,"h2o":1.26e-7,"uds-0":5.6e-11,"uds-1":3.5e-4,"uds-3":7.9e-5},
{"i":850,"y-velocity":3.2e-5,"z-velocity":1.15e-4,"energy":2.4e-10,"h2":2.8e-7,"o2":3.2e-8,"h2o":2.4e-7,"uds-0":5.6e-12,"uds-1":4e-5,"uds-3":3e-4},
{"i":855,"h2":1.8e-7,"h2o":1.7e-7,"uds-0":4.5e-11,"uds-1":4e-4,"uds-3":1.1e-4},
{"i":860,"continuity":2.3e-4,"x-velocity":4.9e-5,"y-velocity":5e-5,"z-velocity":1.38e-4,"energy":2.6e-10,"h2":1.1e-7,"o2":4e-8,"h2o":1.2e-7,"uds-0":7.9e-12,"uds-1":5.6e-5,"uds-2":2.95e-5,"uds-3":3.5e-4},
{"i":865,"h2":3.5e-7,"h2o":2.8e-7,"uds-0":6.3e-11,"uds-1":3.2e-4,"uds-3":6.3e-5},
{"i":870,"y-velocity":2.8e-5,"z-velocity":1.05e-4,"energy":2.5e-10,"h2":2.1e-7,"o2":3e-8,"h2o":1.9e-7,"uds-0":5e-12,"uds-1":8.9e-5,"uds-3":2.8e-4},
{"i":875,"h2":1.3e-7,"h2o":1.3e-7,"uds-0":5e-11,"uds-1":2.5e-4,"uds-3":1.2e-4},
{"i":880,"continuity":2.4e-4,"x-velocity":4.8e-5,"y-velocity":4e-5,"z-velocity":1.41e-4,"energy":2.3e-10,"h2":3.2e-7,"o2":3.3e-8,"h2o":2.6e-7,"uds-0":6.3e-12,"uds-1":4.5e-5,"uds-2":2.8e-5,"uds-3":3.8e-4},
{"i":885,"h2":1.9e-7,"h2o":1.8e-7,"uds-0":5.6e-11,"uds-1":3.5e-4,"uds-3":8.9e-5},
{"i":890,"y-velocity":2.5e-5,"z-velocity":1.26e-4,"energy":2.2e-10,"h2":1.2e-7,"o2":4e-8,"h2o":1.26e-7,"uds-0":7.1e-12,"uds-1":7.1e-5,"uds-3":3.5e-4},
{"i":895,"h2":2.8e-7,"h2o":2.4e-7,"uds-0":4e-11,"uds-1":3.2e-4,"uds-3":1.26e-4},
{"i":900,"continuity":2.35e-4,"x-velocity":4.7e-5,"y-velocity":4e-5,"z-velocity":1.5e-4,"energy":2.8e-10,"h2":1.8e-7,"o2":3.5e-8,"h2o":1.7e-7,"uds-0":5e-12,"uds-1":3.5e-5,"uds-2":2.7e-5,"uds-3":3.2e-4},
{"i":905,"h2":1.1e-7,"h2o":1.2e-7,"uds-0":6.3e-11,"uds-1":4e-4,"uds-3":1e-4},
{"i":910,"y-velocity":3.2e-5,"z-velocity":1.12e-4,"energy":3.2e-10,"h2":3.5e-7,"o2":3.2e-8,"h2o":2.8e-7,"uds-0":7.9e-12,"uds-1":6.3e-5,"uds-3":4e-4},
{"i":915,"h2":2.1e-7,"h2o":1.9e-7,"uds-0":5e-11,"uds-1":2.8e-4,"uds-3":1.4e-4},
{"i":920,"continuity":2.5e-4,"x-velocity":4.6e-5,"y-velocity":4.5e-5,"z-velocity":1.32e-4,"energy":2.1e-10,"h2":1.3e-7,"o2":4.7e-8,"h2o":1.3e-7,"uds-0":5.6e-12,"uds-1":5e-5,"uds-2":2.6e-5,"uds-3":3e-4},
{"i":925,"h2":3.2e-7,"h2o":2.6e-7,"uds-0":5.6e-11,"uds-1":3.5e-4,"uds-3":7.9e-5},
{"i":930,"y-velocity":2.5e-5,"z-velocity":1.45e-4,"energy":1.8e-10,"h2":1.9e-7,"o2":2.4e-8,"h2o":1.8e-7,"uds-0":6.3e-12,"uds-1":1e-4,"uds-3":3.5e-4},
{"i":935,"h2":1.2e-7,"h2o":1.26e-7,"uds-0":4.5e-11,"uds-1":4e-4,"uds-3":1.1e-4},
{"i":940,"continuity":2.3e-4,"x-velocity":4.5e-5,"y-velocity":3.5e-5,"z-velocity":1.1e-4,"energy":2.2e-10,"h2":3.5e-7,"o2":2.6e-8,"h2o":2.8e-7,"uds-0":5e-12,"uds-1":4e-5,"uds-2":2.5e-5,"uds-3":2.8e-4},
{"i":945,"h2":2.1e-7,"h2o":1.9e-7,"uds-0":6.3e-11,"uds-1":3.2e-4,"uds-3":6.3e-5},
{"i":950,"y-velocity":3.2e-5,"z-velocity":1.38e-4,"energy":2.75e-10,"h2":1.3e-7,"o2":3.2e-8,"h2o":1.3e-7,"uds-0":7.1e-12,"uds-1":5.6e-5,"uds-3":3.8e-4},
{"i":955,"h2":2.8e-7,"h2o":2.4e-7,"uds-0":5e-11,"uds-1":2.5e-4,"uds-3":1.2e-4},
{"i":960,"continuity":2.4e-4,"x-velocity":4.4e-5,"y-velocity":4e-5,"z-velocity":1.2e-4,"energy":2.5e-10,"h2":1.8e-7,"o2":3.5e-8,"h2o":1.7e-7,"uds-0":5.6e-12,"uds-1":8.9e-5,"uds-2":2.5e-5,"uds-3":3.5e-4},
{"i":965,"h2":1.1e-7,"h2o":1.2e-7,"uds-0":5.6e-11,"uds-1":3.5e-4,"uds-3":8.9e-5},
{"i":970,"y-velocity":2.4e-5,"z-velocity":1.45e-4,"energy":1.66e-10,"h2":3.2e-7,"o2":2.8e-8,"h2o":2.6e-7,"uds-0":7.9e-12,"uds-1":4.5e-5,"uds-3":3.2e-4},
{"i":975,"h2":1.9e-7,"h2o":1.8e-7,"uds-0":4e-11,"uds-1":3.2e-4,"uds-3":1.26e-4},
{"i":980,"continuity":2.25e-4,"x-velocity":4.3e-5,"y-velocity":3.5e-5,"z-velocity":1.05e-4,"energy":1.74e-10,"h2":1.2e-7,"o2":2.4e-8,"h2o":1.26e-7,"uds-0":5e-12,"uds-1":7.1e-5,"uds-2":2.5e-5,"uds-3":4e-4},
{"i":985,"h2":3.5e-7,"h2o":2.8e-7,"uds-0":6.3e-11,"uds-1":4e-4,"uds-3":1e-4},
{"i":990,"y-velocity":2.8e-5,"z-velocity":1.32e-4,"energy":1.8e-10,"h2":2.1e-7,"o2":2.6e-8,"h2o":1.9e-7,"uds-0":6.3e-12,"uds-1":3.5e-5,"uds-3":3e-4},
{"i":995,"h2":1.3e-7,"h2o":1.3e-7,"uds-0":5e-11,"uds-1":2.8e-4,"uds-3":1.4e-4},
{"i":1000,"continuity":2.3e-4,"x-velocity":4.2e-5,"y-velocity":3.2e-5,"z-velocity":1.26e-4,"energy":1.5e-10,"h2":3.2e-7,"o2":6.3e-8,"h2o":2.6e-7,"uds-0":8.5e-8,"uds-1":6.3e-5,"uds-2":2.5e-5,"uds-3":3.5e-4}
  ]},
  "transform": [
    {"fold": ["continuity", "x-velocity", "y-velocity", "z-velocity", "energy", "h2", "o2", "h2o", "uds-0", "uds-1", "uds-2", "uds-3"], "as": ["series", "v"]},
    {"filter": "isValid(datum.v)"}
  ],
  "mark": {"type": "line", "strokeWidth": 1, "clip": false},
  "encoding": {
    "x": {
      "field": "i", "type": "quantitative",
      "scale": {"domain": [0, 1200], "range": [253, 757.5], "nice": false, "zero": false},
      "axis": {
        "title": "Iterations", "orient": "bottom", "offset": -52, "format": "d",
        "values": [0, 100, 200, 300, 400, 500, 600, 700, 800, 900, 1000, 1100, 1200],
        "labelExpr": "datum.value % 200 == 0 ? datum.label : ''",
        "tickSize": {"condition": {"test": "datum.value % 200 == 0", "value": 5}, "value": 3},
        "labelPadding": 6, "titleFontSize": 16, "titlePadding": 9
      }
    },
    "y": {
      "field": "v", "type": "quantitative",
      "scale": {"type": "log", "domain": [1e-12, 1], "range": [337, 45], "nice": false},
      "axis": {
        "title": null, "orient": "left", "offset": -253,
        "values": [1, 0.74, 0.54, 0.39, 0.275, 0.01, 0.0074, 0.0054, 0.0039, 0.00275, 1e-4, 7.4e-5, 5.4e-5, 3.9e-5, 2.75e-5, 1e-6, 7.4e-7, 5.4e-7, 3.9e-7, 2.75e-7, 1e-8, 7.4e-9, 5.4e-9, 3.9e-9, 2.75e-9, 1e-10, 7.4e-11, 5.4e-11, 3.9e-11, 2.75e-11, 1e-12],
        "labelExpr": "abs(log(datum.value)/LN10 - round(log(datum.value)/LN10)) < 0.01 ? (datum.value > 0.5 ? '1e+00' : '1e-' + (datum.value > 1e-9 ? '0' : '') + round(-log(datum.value)/LN10)) : ''",
        "tickSize": {"condition": {"test": "abs(log(datum.value)/LN10 - round(log(datum.value)/LN10)) < 0.01", "value": 8}, "value": 4},
        "labelPadding": 9
      }
    },
    "color": {
      "field": "series", "type": "nominal",
      "scale": {
        "domain": ["continuity", "x-velocity", "y-velocity", "z-velocity", "energy", "h2", "o2", "h2o", "uds-0", "uds-1", "uds-2", "uds-3"],
        "range": ["#ffffff", "#ff0000", "#00ff00", "#0000ff", "#00ffff", "#f0088c", "#ffff00", "#ff6a00", "#ff5f80", "#1a0a14", "#8c3200", "#800040"]
      },
      "legend": {
        "orient": "none", "legendX": 2, "legendY": 3,
        "title": ["", "Residuals"],
        "titleAnchor": "middle", "titleAlign": "center", "titleFont": "Liberation Sans", "titleFontSize": 13, "titleFontWeight": "normal", "titleColor": "#000000", "titleLimit": 0, "titleLineHeight": 5, "titlePadding": 6,
        "padding": 2, "strokeColor": "#ffffff", "fillColor": null,
        "symbolType": "stroke", "symbolSize": 1296, "symbolOffset": -0.5, "symbolStrokeWidth": 1.5, "clipHeight": 21, "rowPadding": 2.3,
        "labelFont": "Liberation Sans", "labelFontSize": 13, "labelColor": "#000000", "labelOffset": 1.5, "labelLimit": 0,
        "labelExpr": "datum.label + '                          \u200b'"
      }
    }
  }
}
